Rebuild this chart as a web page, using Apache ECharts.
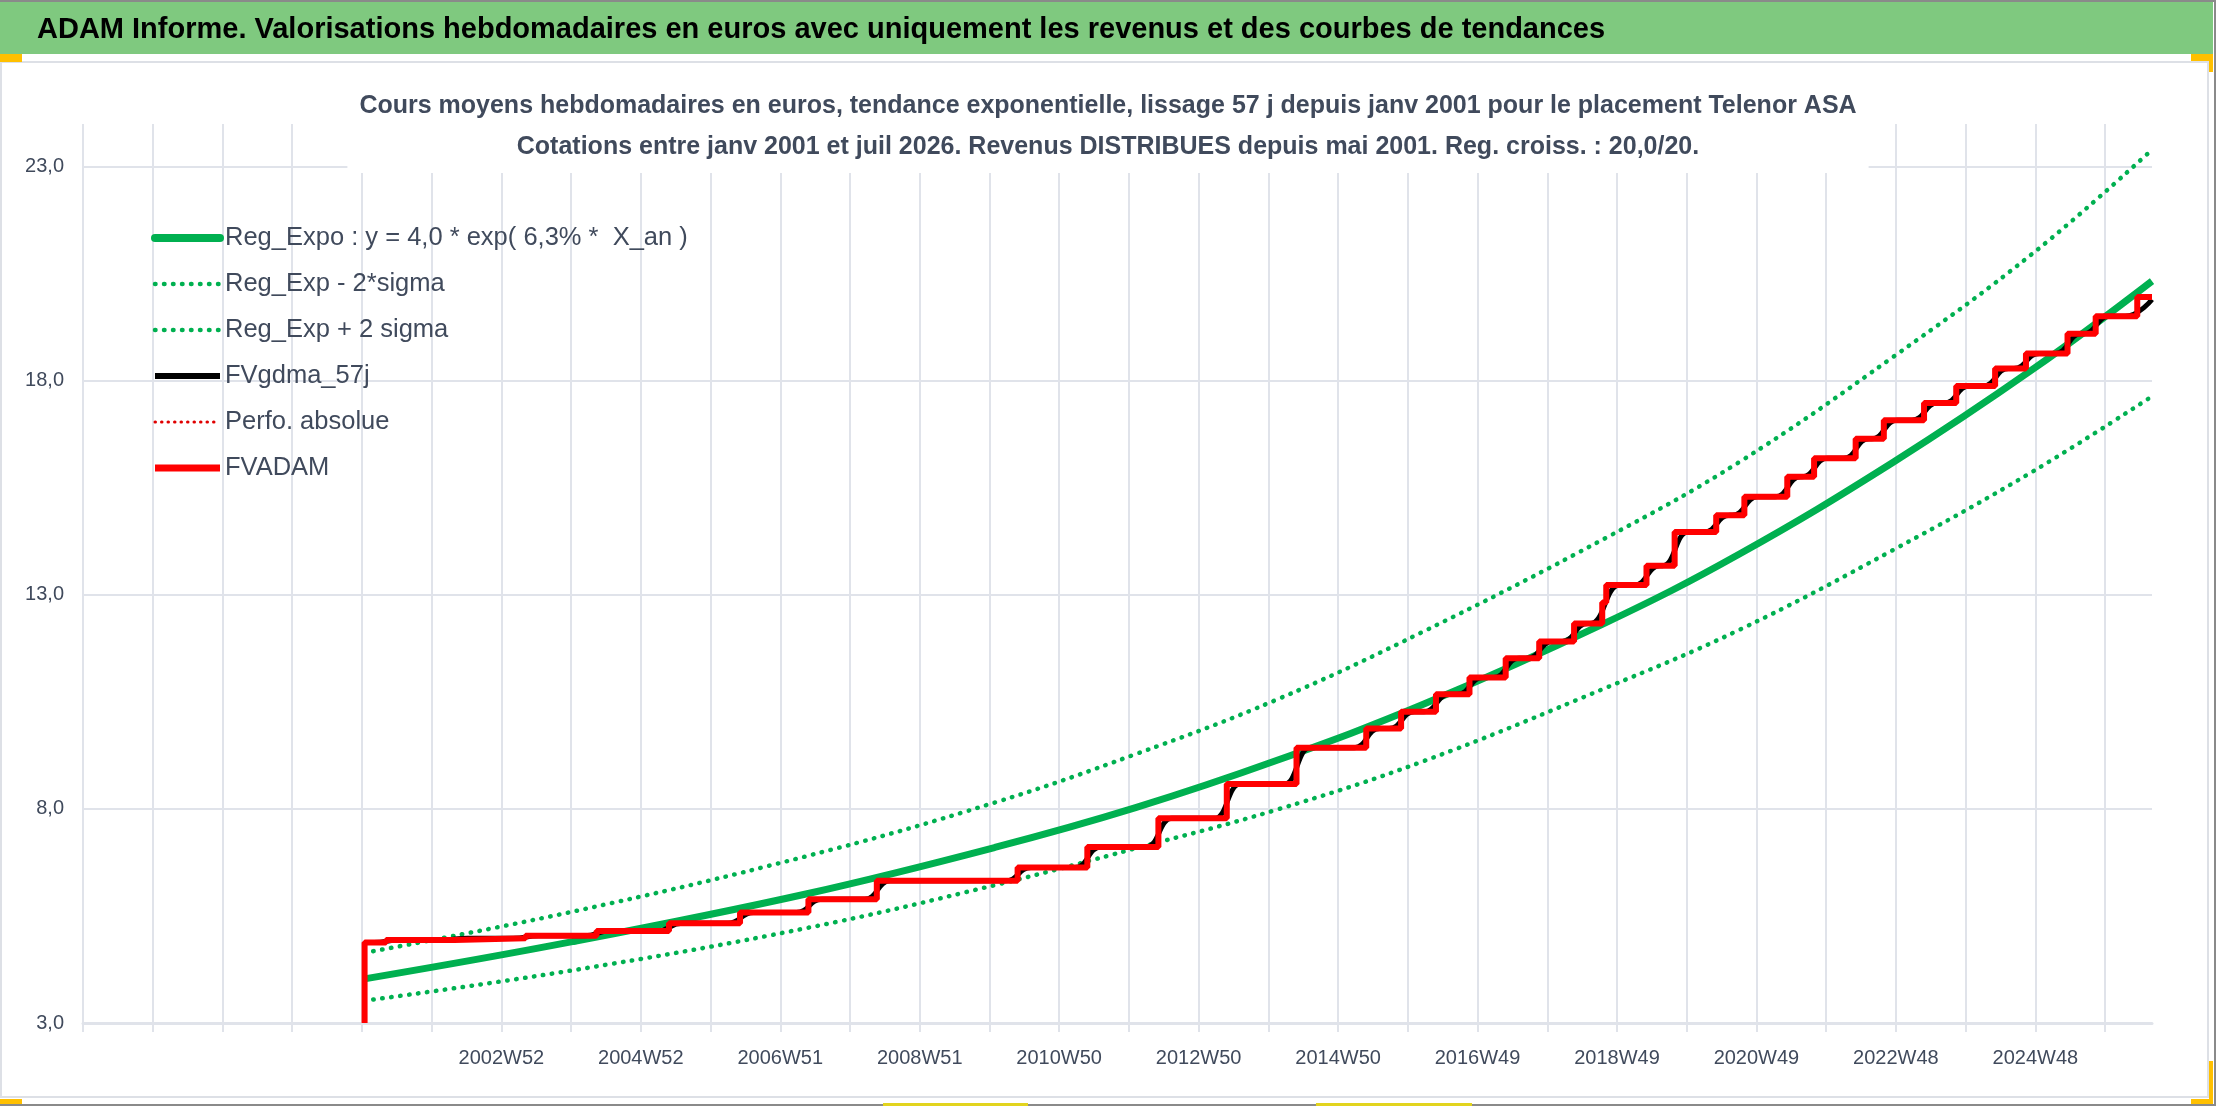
<!DOCTYPE html>
<html>
<head>
<meta charset="utf-8">
<script src="https://cdn.jsdelivr.net/npm/echarts@6/dist/echarts.min.js"></script>
<style>
html, body { margin: 0; padding: 0; background: #fff; }
#chart { width: 2216px; height: 1106px; }
</style>
</head>
<body>
<div id="chart"></div>
<script>
// axe des semaines : 1544 semaines, une graduation par an (52 sem.), un libelle tous les 2 ans
var nbWeeks = 1544;
var firstLabelWeek = 312;
var tickLabels = ['2002W52', '2004W52', '2006W51', '2008W51', '2010W50', '2012W50',
    '2014W50', '2016W49', '2018W49', '2020W49', '2022W48', '2024W48'];

// courbes de tendance
var trendWeeks = [210, 365, 540, 680, 785, 890, 1000, 1135, 1235, 1350, 1455, 1543];
var regExpo  = [4.03, 4.90, 6.02, 7.10, 8.03, 9.13, 10.45, 12.34, 13.95, 16.10, 18.29, 20.33];
var regMinus = [3.52, 4.23, 5.22, 6.22, 7.08, 7.98, 9.12, 10.82, 12.18, 14.05, 15.90, 17.64];
var regPlus  = [4.64, 5.60, 6.90, 8.15, 9.28, 10.55, 12.15, 14.32, 16.10, 18.56, 21.00, 23.40];

// FVADAM : paliers (semaine du palier, niveau)
var fvWeeks = [210, 210, 226, 277, 330, 383, 437, 490, 541, 592, 697, 749, 802, 853, 905, 957,
    983, 1009, 1034, 1061, 1086, 1112, 1133, 1136, 1166, 1187, 1218, 1239, 1271, 1291, 1322,
    1343, 1373, 1397, 1426, 1449, 1480, 1501, 1532, 1543];
var fvLevels = [3.0, 4.88, 4.94, 4.98, 5.04, 5.15, 5.33, 5.58, 5.89, 6.32, 6.63, 7.11, 7.78, 8.58,
    9.43, 9.88, 10.27, 10.68, 11.07, 11.52, 11.91, 12.33, 12.82, 13.23, 13.68, 14.47, 14.86,
    15.29, 15.76, 16.19, 16.65, 17.08, 17.48, 17.88, 18.29, 18.64, 19.10, 19.51, 19.96, 19.96];

// FVgdma_57j : version lissee
var gdmaWeeks = [210, 217, 236, 268, 287, 321, 340, 374, 393, 428, 447, 481, 500, 532, 551, 583, 602,
    688, 707, 740, 759, 793, 812, 844, 863, 896, 915, 948, 967, 974, 993, 1000, 1019, 1025, 1044,
    1052, 1071, 1077, 1096, 1103, 1122, 1124, 1146, 1157, 1176, 1178, 1197, 1209, 1228, 1230, 1249,
    1262, 1281, 1282, 1301, 1313, 1332, 1334, 1353, 1364, 1383, 1388, 1407, 1417, 1436, 1440, 1459,
    1471, 1490, 1492, 1511, 1523, 1543];
var gdmaValues = [4.88, 4.88, 4.94, 4.94, 4.98, 4.98, 5.04, 5.04, 5.15, 5.15, 5.33, 5.33, 5.58,
    5.58, 5.89, 5.89, 6.32, 6.32, 6.63, 6.63, 7.11, 7.11, 7.78, 7.78, 8.58, 8.58, 9.43, 9.43, 9.88,
    9.88, 10.27, 10.27, 10.68, 10.68, 11.07, 11.07, 11.52, 11.52, 11.91, 11.91, 12.33, 12.33, 13.23,
    13.23, 13.68, 13.68, 14.47, 14.47, 14.86, 14.86, 15.29, 15.29, 15.76, 15.76, 16.19, 16.19, 16.65,
    16.65, 17.08, 17.08, 17.48, 17.48, 17.88, 17.88, 18.29, 18.29, 18.64, 18.64, 19.10, 19.10, 19.51,
    19.51, 19.90];

var bannerTitle = 'ADAM Informe. Valorisations hebdomadaires en euros avec uniquement les revenus et des courbes de tendances';
var chartTitle = 'Cours moyens hebdomadaires en euros, tendance exponentielle, lissage 57 j depuis janv 2001 pour le placement Telenor ASA\n' +
    'Cotations entre janv 2001 et juil 2026. Revenus DISTRIBUES depuis mai 2001. Reg. croiss. : 20,0/20.';
var names = ['Reg_Expo : y = 4,0 * exp( 6,3% *  X_an )', 'Reg_Exp - 2*sigma', 'Reg_Exp + 2 sigma',
    'FVgdma_57j', 'Perfo. absolue', 'FVADAM'];

var cats = [];
for (var i = 0; i < nbWeeks; i++) cats.push('');
for (var k = 0; k < tickLabels.length; k++) cats[firstLabelWeek + 104 * k] = tickLabels[k];

function pairs(xs, ys) {
    var out = [];
    for (var i = 0; i < xs.length; i++) out.push([xs[i], ys[i]]);
    return out;
}

var FONT = '"Liberation Sans", Arial, sans-serif';
var GREEN = '#00b050';
var GRID = '#e0e3ea';
var TXT = '#404a5c';
var dots = [0.5, 8.5];

var myChart = echarts.init(document.getElementById('chart'));
option = {
    animation: false,
    backgroundColor: '#fff',
    textStyle: { fontFamily: FONT },
    title: {
        text: chartTitle,
        left: 'center',
        top: 76,
        padding: [10, 12, 5, 12],
        backgroundColor: '#fff',
        textStyle: { fontFamily: FONT, fontSize: 25, fontWeight: 'bold', color: TXT, lineHeight: 41, align: 'center' }
    },
    legend: {
        orient: 'vertical',
        left: 146,
        top: 218,
        itemWidth: 65,
        itemHeight: 14,
        itemGap: 16,
        itemStyle: { opacity: 0 },
        textStyle: { fontFamily: FONT, fontSize: 25.5, color: TXT, lineHeight: 30 },
        data: [
            { name: names[0], lineStyle: { width: 8, cap: 'round' } },
            { name: names[1], lineStyle: { width: 4.5 } },
            { name: names[2], lineStyle: { width: 4.5 } },
            { name: names[3], lineStyle: { width: 6 } },
            { name: names[4], lineStyle: { width: 3 } },
            { name: names[5], lineStyle: { width: 7 } }
        ]
    },
    grid: { left: 83, right: 64, top: 124, bottom: 83 },
    xAxis: {
        type: 'category',
        data: cats,
        boundaryGap: false,
        axisLine: { lineStyle: { color: GRID, width: 3 } },
        axisTick: { length: 9, lineStyle: { color: GRID, width: 2 },
            interval: function (idx) { return idx % 52 === 0; } },
        splitLine: { show: true, lineStyle: { color: GRID, width: 2 },
            interval: function (idx) { return idx % 52 === 0; } },
        axisLabel: {
            interval: function (idx, val) { return val !== ''; },
            fontFamily: FONT, fontSize: 20, color: TXT, margin: 25
        }
    },
    yAxis: {
        type: 'value',
        min: 3,
        max: 24,
        interval: 5,
        axisLine: { show: false },
        axisTick: { show: false },
        splitLine: { lineStyle: { color: GRID, width: 2 }, showMaxLine: false },
        axisLabel: {
            showMaxLabel: false,
            fontFamily: FONT, fontSize: 20, color: TXT, margin: 19,
            formatter: function (v) { return v.toFixed(1).replace('.', ','); }
        }
    },
    series: [
        { name: names[0], type: 'line', symbol: 'none', smooth: 0.4,
          data: pairs(trendWeeks, regExpo), lineStyle: { color: GREEN, width: 7 }, itemStyle: { color: GREEN } },
        { name: names[1], type: 'line', symbol: 'none', smooth: 0.4,
          data: pairs(trendWeeks, regMinus), lineStyle: { color: GREEN, width: 4.5, type: dots, cap: 'round' }, itemStyle: { color: GREEN } },
        { name: names[2], type: 'line', symbol: 'none', smooth: 0.4,
          data: pairs(trendWeeks, regPlus), lineStyle: { color: GREEN, width: 4.5, type: dots, cap: 'round' }, itemStyle: { color: GREEN } },
        { name: names[3], type: 'line', symbol: 'none', smooth: 0.5, smoothMonotone: 'x',
          data: pairs(gdmaWeeks, gdmaValues), lineStyle: { color: '#000', width: 5 }, itemStyle: { color: '#000' } },
        { name: names[4], type: 'line', symbol: 'none',
          data: [], lineStyle: { color: '#e00000', width: 3, type: [0.5, 6], cap: 'round' }, itemStyle: { color: '#e00000' } },
        { name: names[5], type: 'line', symbol: 'none', step: 'end',
          data: pairs(fvWeeks, fvLevels), lineStyle: { color: '#ff0000', width: 6 }, itemStyle: { color: '#ff0000' } }
    ],
    graphic: [
        { type: 'rect', shape: { x: 0, y: 0, width: 2216, height: 2 }, style: { fill: '#8a8a8a' } },
        { type: 'rect', shape: { x: 0, y: 2, width: 2213, height: 52 }, style: { fill: '#7fc97f' } },
        { type: 'rect', shape: { x: 2214, y: 0, width: 2, height: 1106 }, style: { fill: '#8a8a8a' } },
        { type: 'rect', shape: { x: 0, y: 1104, width: 2216, height: 2 }, style: { fill: '#8a8a8a' } },
        { type: 'rect', shape: { x: 1, y: 62, width: 2207, height: 1035 }, style: { fill: 'none', stroke: '#dde0e6', lineWidth: 2 }, z: -1 },
        { type: 'rect', shape: { x: 0, y: 54, width: 22, height: 8 }, style: { fill: '#ffc000' } },
        { type: 'rect', shape: { x: 2191, y: 54, width: 22, height: 7 }, style: { fill: '#ffc000' } },
        { type: 'rect', shape: { x: 2209, y: 54, width: 4, height: 18 }, style: { fill: '#ffc000' } },
        { type: 'rect', shape: { x: 2209, y: 1061, width: 4, height: 42 }, style: { fill: '#ffc000' } },
        { type: 'rect', shape: { x: 2191, y: 1099, width: 22, height: 5 }, style: { fill: '#ffc000' } },
        { type: 'rect', shape: { x: 0, y: 1099, width: 22, height: 5 }, style: { fill: '#ffc000' } },
        { type: 'rect', shape: { x: 883, y: 1103, width: 145, height: 3 }, style: { fill: '#e2d41e' } },
        { type: 'rect', shape: { x: 1316, y: 1103, width: 156, height: 3 }, style: { fill: '#e2d41e' } },
        { type: 'text', x: 37, y: 30, style: { text: bannerTitle, fill: '#000', verticalAlign: 'middle',
            font: 'bold 29px ' + FONT } }
    ]
};
myChart.setOption(option);
</script>
</body>
</html>
